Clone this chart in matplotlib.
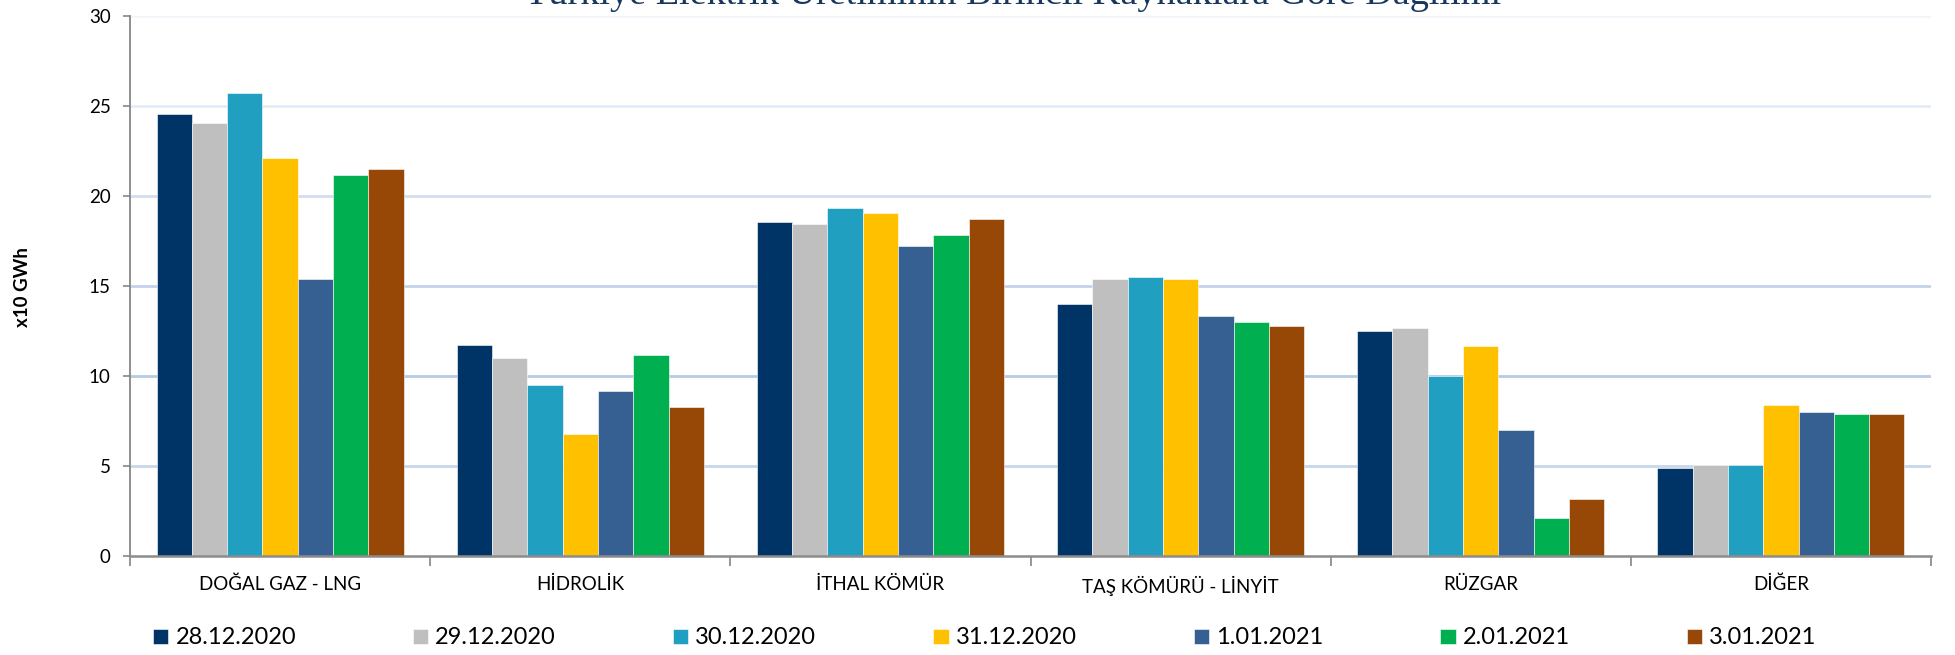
import numpy as np
import matplotlib
matplotlib.use("Agg")
import matplotlib.pyplot as plt

# veriler
kaynaklar = ["DOĞAL GAZ - LNG", "HİDROLİK", "İTHAL KÖMÜR", "TAŞ KÖMÜRÜ - LİNYİT", "RÜZGAR", "DİĞER"]
tarihler = ["28.12.2020", "29.12.2020", "30.12.2020", "31.12.2020", "1.01.2021", "2.01.2021", "3.01.2021"]

g_28_12 = [24.57, 11.72, 18.57, 14.02, 12.49, 4.91]
g_29_12 = [24.06, 11.02, 18.48, 15.39, 12.67, 5.07]
g_30_12 = [25.72, 9.51, 19.35, 15.52, 10.03, 5.07]
g_31_12 = [22.13, 6.81, 19.09, 15.41, 11.69, 8.43]
g_01_01 = [15.39, 9.19, 17.24, 13.34, 7.01, 8.02]
g_02_01 = [21.18, 11.19, 17.87, 13.04, 2.15, 7.90]
g_03_01 = [21.48, 8.29, 18.72, 12.82, 3.19, 7.91]

seriler = [g_28_12, g_29_12, g_30_12, g_31_12, g_01_01, g_02_01, g_03_01]
renkler = ["#003366", "#bfbfbf", "#209fc1", "#ffc000", "#366092", "#00b050", "#974706"]

plt.rcParams["font.family"] = ["Lato", "DejaVu Sans"]

fig = plt.figure(figsize=(19.56, 6.55), dpi=100)
ax = fig.add_axes([0.0665, 0.1504, 0.9207, 0.8252])

x = np.arange(len(kaynaklar))
w = 1 / 8.5
for i, (vals, c) in enumerate(zip(seriler, renkler)):
    ax.bar(x + (i - 3) * w, vals, width=w, color=c, label=tarihler[i], zorder=3,
           edgecolor="white", linewidth=0.4)

# yatay kılavuz çizgileri (yukarı doğru soluklaşıyor)
grid_renk = {5: "#c9d7ea", 10: "#b7cbe4", 15: "#c2d3ea", 20: "#d2deef", 25: "#e4ecf7", 30: "#f2f6fb"}
for yv, c in grid_renk.items():
    ax.axhline(yv, color=c, linewidth=2, zorder=1)

ax.set_xlim(-0.5, 5.5)
ax.set_ylim(0, 30)
ax.set_yticks(range(0, 31, 5))
ax.tick_params(axis="y", labelsize=13.5, length=5, width=1.2, color="#868686", pad=9)

ax.set_xticks(x)
ax.set_xticklabels(kaynaklar, fontsize=13.5)
ax.tick_params(axis="x", which="major", length=0, pad=14)
ax.set_xticks(np.arange(-0.5, 6, 1), minor=True)
ax.tick_params(axis="x", which="minor", length=7, width=1.2, color="#868686")

for s in ["top", "right"]:
    ax.spines[s].set_visible(False)
ax.spines["left"].set_color("#868686")
ax.spines["left"].set_linewidth(1.3)
ax.spines["bottom"].set_color("#8c8c8c")
ax.spines["bottom"].set_linewidth(1.8)
ax.spines["bottom"].set_zorder(4)

fig.text(22 / 1956, 1 - 287 / 655, "x10 GWh", rotation=90, ha="center", va="center",
         fontsize=13.5, fontweight="bold")

fig.text(0.518, 1 - 3.5 / 655, "Türkiye Elektrik Üretiminin Birincil Kaynaklara Göre Dağılımı",
         ha="center", va="baseline", fontsize=27.5, color="#17375e", family="Liberation Serif")

fig.legend(loc="center left", bbox_to_anchor=(153 / 1956, 1 - 638 / 655), ncol=7, frameon=False,
           fontsize=17, handlelength=0.65, handleheight=0.62, handletextpad=0.3,
           columnspacing=4.95, borderpad=0, borderaxespad=0)

fig.savefig("out.png", dpi=100)
